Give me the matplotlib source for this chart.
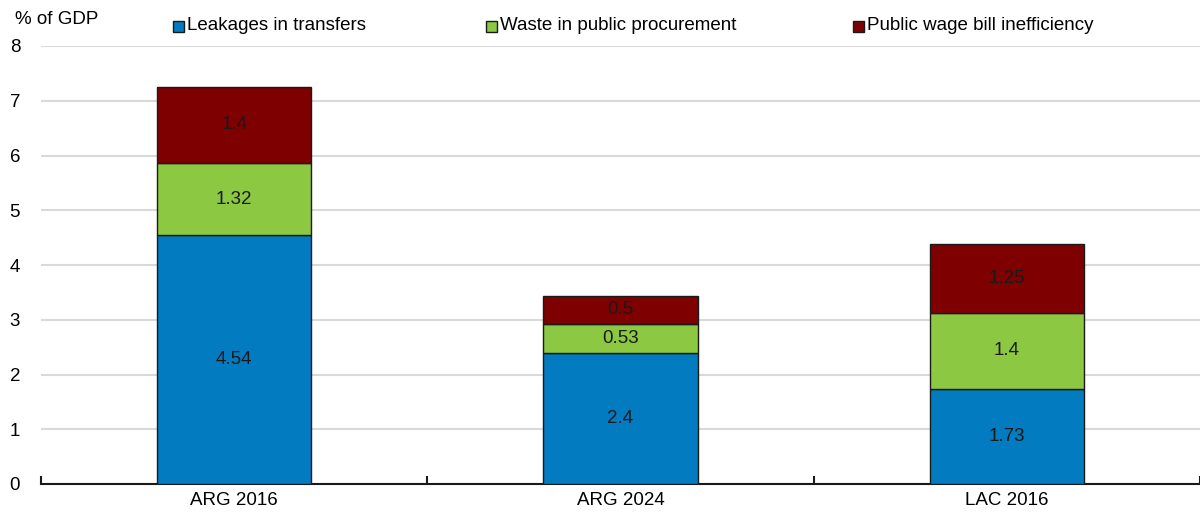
import matplotlib
matplotlib.use("Agg")
import matplotlib.pyplot as plt
from matplotlib import font_manager
from matplotlib.patches import Rectangle

categories = ["ARG 2016", "ARG 2024", "LAC 2016"]
series_names = ["Leakages in transfers", "Waste in public procurement", "Public wage bill inefficiency"]
leakages = [4.54, 2.4, 1.73]
procurement = [1.32, 0.53, 1.4]
wage_bill = [1.4, 0.5, 1.25]
y_ticks = [0, 1, 2, 3, 4, 5, 6, 7, 8]

colors = ["#037BC1", "#8CC841", "#7F0000"]

available = {f.name for f in font_manager.fontManager.ttflist}
family = "Liberation Sans Narrow" if "Liberation Sans Narrow" in available else "Liberation Sans"
plt.rcParams["font.family"] = [family, "DejaVu Sans"]
fs = 13.5

fig = plt.figure(figsize=(12, 5.14), dpi=100)
W, H = 1200, 514
ax = fig.add_axes([41 / W, 1 - 484 / H, 1 - 41 / W, (484 - 46) / H])

x = list(range(len(categories)))
bottom = [0.0] * len(categories)
for name, vals, col in zip(series_names, [leakages, procurement, wage_bill], colors):
    ax.bar(x, vals, width=0.4, bottom=bottom, color=col,
           edgecolor="#1a1a1a", linewidth=1.0, zorder=3)
    for xi, b, v in zip(x, bottom, vals):
        ax.text(xi, b + v / 2, f"{v:g}", ha="center", va="center",
                fontsize=fs, color="#1a1a1a", zorder=4)
    bottom = [b + v for b, v in zip(bottom, vals)]

ax.set_ylim(0, 8)
ax.set_xlim(-0.5, -0.5 + (1200 - 41) / 390)
ax.set_yticks(y_ticks)
ax.yaxis.grid(True, color="#d9d9d9", linewidth=1.5, zorder=0)
ax.set_axisbelow(True)
ax.tick_params(axis="y", length=0, pad=15, labelsize=fs)

ax.set_xticks(x)
ax.set_xticklabels(categories)
ax.tick_params(axis="x", which="major", length=0, pad=6, labelsize=fs)
ax.set_xticks([-0.5, 0.5, 1.5, 2.5], minor=True)
ax.tick_params(axis="x", which="minor", direction="in", length=6, width=1.5, color="#1a1a1a")

for side in ["top", "right", "left"]:
    ax.spines[side].set_visible(False)
ax.spines["bottom"].set_color("#1a1a1a")
ax.spines["bottom"].set_linewidth(1.5)

fig.text(15 / W, 1 - 20 / H, "% of GDP", ha="left", va="center", fontsize=fs)

leg_x = [173, 486, 853]
for lx, name, col in zip(leg_x, series_names, colors):
    fig.patches.append(Rectangle(
        (lx / W, 1 - 32 / H), 11 / W, 11 / H, transform=fig.transFigure,
        facecolor=col, edgecolor="#1a1a1a", linewidth=1.0))
    fig.text((lx + 14) / W, 1 - 25 / H, name, ha="left", va="center", fontsize=fs)

fig.savefig("out.png", dpi=100)
